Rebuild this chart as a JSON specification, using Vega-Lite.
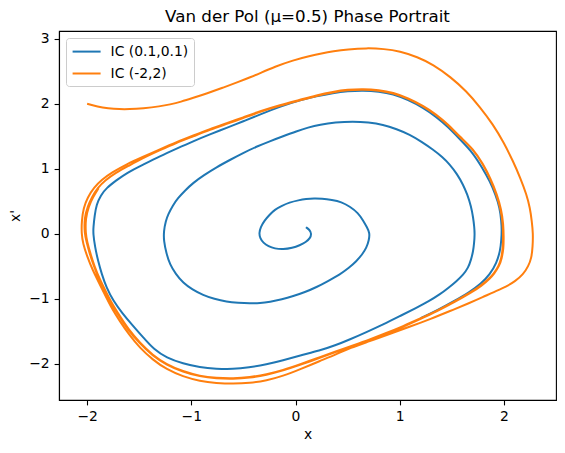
{
  "$schema": "https://vega.github.io/schema/vega-lite/v6.json",
  "width": 497,
  "height": 369,
  "autosize": {"type": "none"},
  "padding": {"left": 59, "top": 31, "right": 9, "bottom": 53},
  "background": "white",
  "title": {"text": "Van der Pol (μ=0.5) Phase Portrait", "font": "DejaVu Sans", "fontSize": 16.7, "fontWeight": "normal", "color": "black", "anchor": "middle", "offset": 5},
  "config": {
    "view": {"stroke": "black", "strokeWidth": 1.1},
    "axis": {"grid": false, "labelFont": "DejaVu Sans", "labelFontSize": 13.9, "labelColor": "black", "titleFont": "DejaVu Sans", "titleFontSize": 13.9, "titleFontWeight": "normal", "titleColor": "black", "tickColor": "black", "tickSize": 4.9, "tickWidth": 1.1, "domainColor": "black", "domainWidth": 1.1, "labelPadding": 4.9},
    "legend": {"labelFont": "DejaVu Sans", "labelFontSize": 13.9, "labelColor": "black"}
  },
  "datasets": {
    "blue": [
      {"x":0.1,"y":0.1},{"x":0.135,"y":0.06},{"x":0.154,"y":0.0},{"x":0.14,"y":-0.07},{"x":0.1,"y":-0.13},{"x":0.04,"y":-0.18},{"x":-0.03,"y":-0.22},{"x":-0.12,"y":-0.243},{"x":-0.2,"y":-0.23},{"x":-0.26,"y":-0.195},{"x":-0.31,"y":-0.14},{"x":-0.34,"y":-0.07},{"x":-0.35,"y":0.01},{"x":-0.335,"y":0.1},{"x":-0.3,"y":0.2},{"x":-0.25,"y":0.29},{"x":-0.2,"y":0.37},{"x":-0.13,"y":0.43},{"x":-0.06,"y":0.48},{"x":0.03,"y":0.515},{"x":0.1,"y":0.535},{"x":0.18,"y":0.545},{"x":0.25,"y":0.541},{"x":0.35,"y":0.52},{"x":0.441,"y":0.489},{"x":0.52,"y":0.42},{"x":0.601,"y":0.32},{"x":0.65,"y":0.2},{"x":0.685,"y":0.1},{"x":0.713,"y":0.01},{"x":0.705,"y":-0.1},{"x":0.681,"y":-0.218},{"x":0.64,"y":-0.32},{"x":0.585,"y":-0.423},{"x":0.51,"y":-0.53},{"x":0.425,"y":-0.628},{"x":0.31,"y":-0.73},{"x":0.202,"y":-0.823},{"x":0.09,"y":-0.9},{"x":-0.023,"y":-0.962},{"x":-0.13,"y":-1.01},{"x":-0.247,"y":-1.049},{"x":-0.34,"y":-1.07},{"x":-0.439,"y":-1.074},{"x":-0.55,"y":-1.065},{"x":-0.662,"y":-1.049},{"x":-0.78,"y":-1.005},{"x":-0.887,"y":-0.946},{"x":-0.99,"y":-0.86},{"x":-1.079,"y":-0.757},{"x":-1.15,"y":-0.62},{"x":-1.206,"y":-0.474},{"x":-1.24,"y":-0.3},{"x":-1.264,"y":-0.115},{"x":-1.265,"y":0.04},{"x":-1.245,"y":0.2},{"x":-1.223,"y":0.295},{"x":-1.18,"y":0.43},{"x":-1.127,"y":0.551},{"x":-1.06,"y":0.665},{"x":-0.983,"y":0.782},{"x":-0.88,"y":0.9},{"x":-0.758,"y":1.023},{"x":-0.63,"y":1.135},{"x":-0.503,"y":1.243},{"x":-0.375,"y":1.34},{"x":-0.247,"y":1.423},{"x":-0.12,"y":1.5},{"x":0.01,"y":1.577},{"x":0.12,"y":1.635},{"x":0.234,"y":1.68},{"x":0.38,"y":1.715},{"x":0.553,"y":1.73},{"x":0.7,"y":1.715},{"x":0.84,"y":1.68},{"x":0.97,"y":1.61},{"x":1.097,"y":1.526},{"x":1.21,"y":1.415},{"x":1.32,"y":1.295},{"x":1.41,"y":1.18},{"x":1.481,"y":1.065},{"x":1.55,"y":0.92},{"x":1.608,"y":0.757},{"x":1.65,"y":0.6},{"x":1.685,"y":0.42},{"x":1.705,"y":0.25},{"x":1.716,"y":0.1},{"x":1.72,"y":-0.01},{"x":1.714,"y":-0.15},{"x":1.705,"y":-0.269},{"x":1.685,"y":-0.4},{"x":1.657,"y":-0.526},{"x":1.61,"y":-0.63},{"x":1.545,"y":-0.731},{"x":1.47,"y":-0.83},{"x":1.385,"y":-0.935},{"x":1.28,"y":-1.04},{"x":1.161,"y":-1.141},{"x":1.0,"y":-1.27},{"x":0.841,"y":-1.397},{"x":0.68,"y":-1.515},{"x":0.521,"y":-1.628},{"x":0.38,"y":-1.72},{"x":0.233,"y":-1.8},{"x":0.041,"y":-1.875},{"x":-0.12,"y":-1.95},{"x":-0.278,"y":-2.012},{"x":-0.45,"y":-2.06},{"x":-0.6,"y":-2.085},{"x":-0.76,"y":-2.08},{"x":-0.918,"y":-2.058},{"x":-1.08,"y":-2.0},{"x":-1.238,"y":-1.911},{"x":-1.36,"y":-1.78},{"x":-1.46,"y":-1.6},{"x":-1.57,"y":-1.4},{"x":-1.665,"y":-1.22},{"x":-1.75,"y":-1.03},{"x":-1.814,"y":-0.834},{"x":-1.86,"y":-0.62},{"x":-1.895,"y":-0.42},{"x":-1.925,"y":-0.2},{"x":-1.942,"y":0.0},{"x":-1.94,"y":0.1},{"x":-1.928,"y":0.28},{"x":-1.91,"y":0.449},{"x":-1.87,"y":0.59},{"x":-1.814,"y":0.705},{"x":-1.72,"y":0.82},{"x":-1.622,"y":0.935},{"x":-1.46,"y":1.065},{"x":-1.302,"y":1.192},{"x":-1.14,"y":1.31},{"x":-0.983,"y":1.423},{"x":-0.82,"y":1.53},{"x":-0.662,"y":1.628},{"x":-0.5,"y":1.73},{"x":-0.343,"y":1.834},{"x":-0.15,"y":1.955},{"x":0.041,"y":2.055},{"x":0.2,"y":2.115},{"x":0.361,"y":2.166},{"x":0.5,"y":2.195},{"x":0.649,"y":2.205},{"x":0.8,"y":2.19},{"x":0.937,"y":2.15},{"x":1.08,"y":2.06},{"x":1.225,"y":1.94},{"x":1.35,"y":1.8},{"x":1.46,"y":1.65},{"x":1.58,"y":1.45},{"x":1.7,"y":1.25},{"x":1.79,"y":1.02},{"x":1.865,"y":0.808},{"x":1.92,"y":0.6},{"x":1.96,"y":0.4},{"x":1.975,"y":0.2},{"x":1.98,"y":0.05},{"x":1.975,"y":-0.1},{"x":1.965,"y":-0.26},{"x":1.93,"y":-0.45},{"x":1.865,"y":-0.63},{"x":1.78,"y":-0.77},{"x":1.675,"y":-0.895},{"x":1.52,"y":-1.04},{"x":1.36,"y":-1.18},{"x":1.2,"y":-1.3}
    ],
    "orange": [
      {"x":-2.0,"y":2.0},{"x":-1.9,"y":1.955},{"x":-1.8,"y":1.93},{"x":-1.686,"y":1.915},{"x":-1.6,"y":1.915},{"x":-1.463,"y":1.93},{"x":-1.3,"y":1.96},{"x":-1.206,"y":1.988},{"x":-1.1,"y":2.03},{"x":-0.983,"y":2.09},{"x":-0.85,"y":2.16},{"x":-0.7,"y":2.245},{"x":-0.55,"y":2.335},{"x":-0.43,"y":2.41},{"x":-0.343,"y":2.47},{"x":-0.2,"y":2.57},{"x":-0.023,"y":2.67},{"x":0.137,"y":2.735},{"x":0.25,"y":2.775},{"x":0.361,"y":2.808},{"x":0.5,"y":2.838},{"x":0.681,"y":2.858},{"x":0.85,"y":2.845},{"x":1.001,"y":2.808},{"x":1.17,"y":2.72},{"x":1.32,"y":2.603},{"x":1.49,"y":2.41},{"x":1.641,"y":2.192},{"x":1.77,"y":1.95},{"x":1.896,"y":1.68},{"x":2.0,"y":1.4},{"x":2.088,"y":1.115},{"x":2.16,"y":0.85},{"x":2.217,"y":0.603},{"x":2.25,"y":0.4},{"x":2.268,"y":0.192},{"x":2.28,"y":0.0},{"x":2.276,"y":-0.2},{"x":2.265,"y":-0.372},{"x":2.235,"y":-0.5},{"x":2.185,"y":-0.628},{"x":2.11,"y":-0.73},{"x":2.025,"y":-0.815},{"x":1.9,"y":-0.9},{"x":1.8,"y":-0.975},{"x":1.673,"y":-1.065},{"x":1.481,"y":-1.192},{"x":1.3,"y":-1.31},{"x":1.1,"y":-1.43},{"x":0.9,"y":-1.545},{"x":0.713,"y":-1.654},{"x":0.521,"y":-1.76},{"x":0.4,"y":-1.85},{"x":0.233,"y":-1.96},{"x":0.041,"y":-2.09},{"x":-0.12,"y":-2.19},{"x":-0.278,"y":-2.262},{"x":-0.44,"y":-2.3},{"x":-0.599,"y":-2.311},{"x":-0.76,"y":-2.3},{"x":-0.918,"y":-2.269},{"x":-1.08,"y":-2.2},{"x":-1.238,"y":-2.089},{"x":-1.37,"y":-1.94},{"x":-1.494,"y":-1.757},{"x":-1.6,"y":-1.55},{"x":-1.686,"y":-1.346},{"x":-1.76,"y":-1.16},{"x":-1.814,"y":-0.988},{"x":-1.878,"y":-0.782},{"x":-1.95,"y":-0.55},{"x":-2.0,"y":-0.35},{"x":-2.04,"y":-0.15},{"x":-2.054,"y":0.0},{"x":-2.052,"y":0.2},{"x":-2.035,"y":0.4},{"x":-1.995,"y":0.56},{"x":-1.935,"y":0.71},{"x":-1.86,"y":0.83},{"x":-1.76,"y":0.945},{"x":-1.62,"y":1.07},{"x":-1.47,"y":1.18},{"x":-1.3,"y":1.3},{"x":-1.142,"y":1.41},
      {"x":-0.98,"y":1.512},{"x":-0.822,"y":1.61},{"x":-0.66,"y":1.7},{"x":-0.503,"y":1.79},{"x":-0.343,"y":1.885},{"x":-0.15,"y":1.98},{"x":0.041,"y":2.06},{"x":0.2,"y":2.13},{"x":0.361,"y":2.185},{"x":0.5,"y":2.218},{"x":0.649,"y":2.228},{"x":0.8,"y":2.213},{"x":0.937,"y":2.174},{"x":1.08,"y":2.088},{"x":1.225,"y":1.97},{"x":1.35,"y":1.838},{"x":1.46,"y":1.688},{"x":1.58,"y":1.488},{"x":1.705,"y":1.305},{"x":1.8,"y":1.075},{"x":1.873,"y":0.845},{"x":1.935,"y":0.6},{"x":1.975,"y":0.37},{"x":1.995,"y":0.15},{"x":1.998,"y":-0.05},{"x":1.997,"y":-0.218},{"x":1.98,"y":-0.38},{"x":1.955,"y":-0.5},{"x":1.905,"y":-0.62},{"x":1.87,"y":-0.682},{"x":1.785,"y":-0.805},{"x":1.678,"y":-0.915},{"x":1.525,"y":-1.055},{"x":1.358,"y":-1.195},{"x":1.195,"y":-1.315},{"x":1.038,"y":-1.43},{"x":0.875,"y":-1.537},{"x":0.718,"y":-1.635},{"x":0.555,"y":-1.727},{"x":0.398,"y":-1.815},{"x":0.238,"y":-1.907},{"x":0.045,"y":-2.02},{"x":-0.12,"y":-2.108},{"x":-0.278,"y":-2.174},{"x":-0.44,"y":-2.218},{"x":-0.599,"y":-2.236},{"x":-0.76,"y":-2.228},{"x":-0.918,"y":-2.2},{"x":-1.08,"y":-2.128},{"x":-1.238,"y":-2.02},{"x":-1.372,"y":-1.877},{"x":-1.498,"y":-1.686},{"x":-1.605,"y":-1.485},{"x":-1.69,"y":-1.274},{"x":-1.765,"y":-1.085},{"x":-1.82,"y":-0.915},{"x":-1.884,"y":-0.71},{"x":-1.936,"y":-0.5},{"x":-1.977,"y":-0.3},{"x":-2.006,"y":-0.12},{"x":-2.025,"y":0.0},{"x":-2.027,"y":0.243},{"x":-1.995,"y":0.42},{"x":-1.955,"y":0.56},{"x":-1.9,"y":0.705},{"x":-1.826,"y":0.822},{"x":-1.726,"y":0.937},{"x":-1.605,"y":1.042},{"x":-1.467,"y":1.162},{"x":-1.305,"y":1.282},{"x":-1.146,"y":1.399},
      {"x":-0.98,"y":1.5},{"x":-0.822,"y":1.6},{"x":-0.66,"y":1.69},{"x":-0.503,"y":1.78},{"x":-0.343,"y":1.875},{"x":-0.15,"y":1.97},{"x":0.041,"y":2.05},{"x":0.2,"y":2.12},{"x":0.361,"y":2.177},{"x":0.5,"y":2.21},{"x":0.649,"y":2.22},{"x":0.8,"y":2.205},{"x":0.937,"y":2.166},{"x":1.08,"y":2.08},{"x":1.225,"y":1.962},{"x":1.35,"y":1.83},{"x":1.46,"y":1.68},{"x":1.58,"y":1.48},{"x":1.705,"y":1.3},{"x":1.8,"y":1.07},{"x":1.87,"y":0.84},{"x":1.93,"y":0.6},{"x":1.97,"y":0.37},{"x":1.99,"y":0.15},{"x":1.992,"y":-0.05},{"x":1.99,"y":-0.218},{"x":1.975,"y":-0.38},{"x":1.95,"y":-0.5},{"x":1.9,"y":-0.62},{"x":1.865,"y":-0.68},{"x":1.78,"y":-0.8},{"x":1.673,"y":-0.91},{"x":1.52,"y":-1.05},{"x":1.353,"y":-1.19},{"x":1.19,"y":-1.31},{"x":1.033,"y":-1.423},{"x":0.87,"y":-1.53},{"x":0.713,"y":-1.628},{"x":0.55,"y":-1.72},{"x":0.393,"y":-1.808},{"x":0.233,"y":-1.9},{"x":0.041,"y":-2.012},{"x":-0.12,"y":-2.1},{"x":-0.278,"y":-2.166},{"x":-0.44,"y":-2.21},{"x":-0.599,"y":-2.228},{"x":-0.76,"y":-2.22},{"x":-0.918,"y":-2.192},{"x":-1.08,"y":-2.12},{"x":-1.238,"y":-2.012},{"x":-1.37,"y":-1.87},{"x":-1.494,"y":-1.68},{"x":-1.6,"y":-1.48},{"x":-1.686,"y":-1.269},{"x":-1.76,"y":-1.08},{"x":-1.814,"y":-0.91},{"x":-1.878,"y":-0.705},{"x":-1.93,"y":-0.5},{"x":-1.97,"y":-0.3},{"x":-2.0,"y":-0.12},{"x":-2.015,"y":0.0},{"x":-2.015,"y":0.24},{"x":-1.985,"y":0.42},{"x":-1.945,"y":0.56},{"x":-1.89,"y":0.7}
    ]
  },
  "encoding": {
    "x": {"field": "x", "type": "quantitative", "title": "x", "scale": {"domain": [-2.27, 2.5], "nice": false, "zero": false},
      "axis": {"values": [-2, -1, 0, 1, 2], "labelExpr": "datum.value < 0 ? '−' + format(-datum.value, 'd') : format(datum.value, 'd')", "titlePadding": 4}},
    "y": {"field": "y", "type": "quantitative", "title": "x'", "scale": {"domain": [-2.56, 3.12], "nice": false, "zero": false},
      "axis": {"values": [-2, -1, 0, 1, 2, 3], "labelExpr": "datum.value < 0 ? '−' + format(-datum.value, 'd') : format(datum.value, 'd')", "titlePadding": 6}},
    "order": {"value": null}
  },
  "layer": [
    {
      "data": {"name": "blue"},
      "mark": {"type": "line", "strokeWidth": 2, "interpolate": "basis"},
      "encoding": {"color": {"datum": "IC (0.1,0.1)", "type": "nominal",
        "scale": {"domain": ["IC (0.1,0.1)", "IC (-2,2)"], "range": ["#1f77b4", "#ff7f0e"]},
        "legend": {"title": null, "orient": "none", "legendX": 7, "legendY": 7, "symbolType": "M-2,0H2", "symbolSize": 196, "symbolStrokeWidth": 2, "symbolOffset": 7, "padding": 5.6, "rowPadding": 6.9, "labelOffset": 16, "fillColor": "white", "strokeColor": "#cccccc", "cornerRadius": 3}}}
    },
    {
      "data": {"name": "orange"},
      "mark": {"type": "line", "strokeWidth": 2, "interpolate": "basis"},
      "encoding": {"color": {"datum": "IC (-2,2)", "type": "nominal"}}
    }
  ]
}
